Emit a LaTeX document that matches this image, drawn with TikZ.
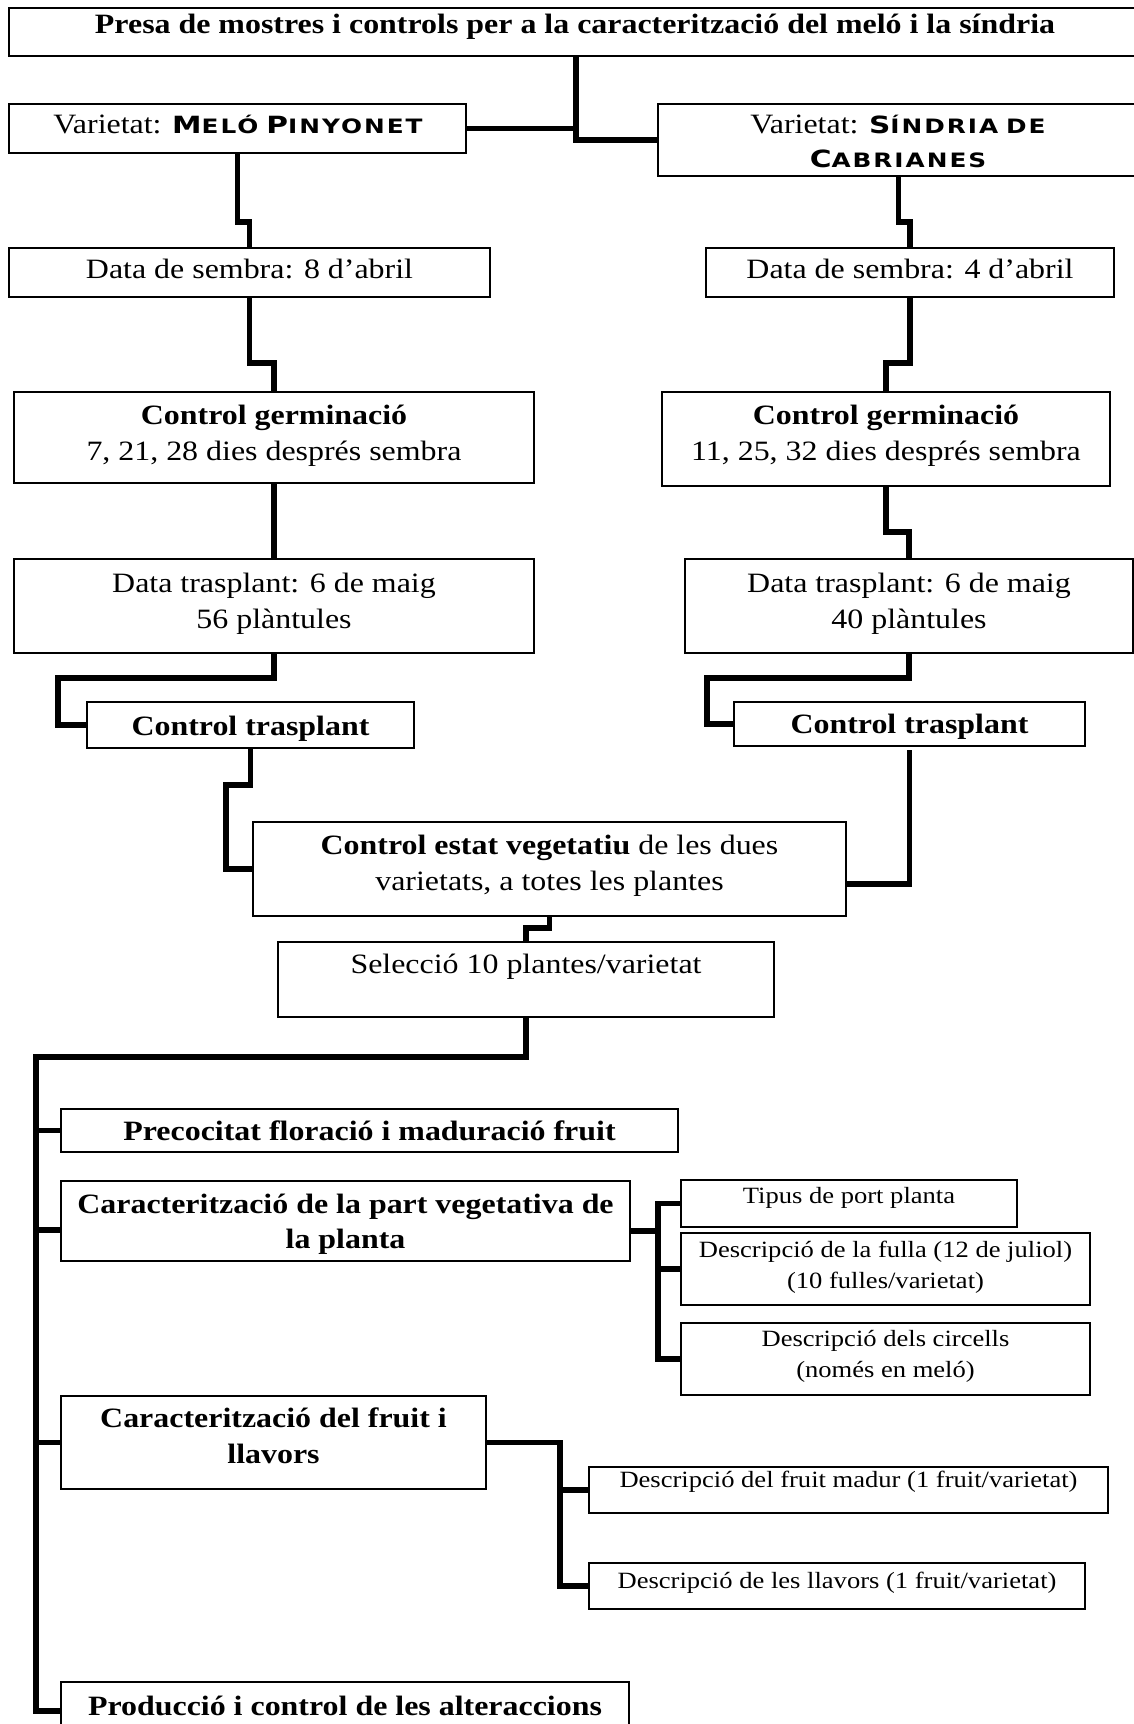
\documentclass[tikz,border=0pt]{standalone}
\usepackage{fontspec}
\usetikzlibrary{fit}
\setmainfont{Liberation Serif}[FakeStretch=1.14]
\newfontfamily\scf{DejaVu Sans}[FakeStretch=1.25,LetterSpace=10]
\newcommand\bigfs{\fontsize{28}{36}\selectfont}
\newcommand\smallfs{\fontsize{23.3}{30.5}\selectfont}
\newcommand\vsc[2]{{\scf\bfseries\fontsize{23.7}{23.7}\selectfont #1\fontsize{19.8}{19.8}\selectfont #2}}
\begin{document}
\begin{tikzpicture}[x=1pt,y=-1pt,
  box/.style={draw, line width=2pt, inner sep=0pt, outer sep=0pt},
  conn/.style={line width=5.5pt, line join=miter},
  txt/.style={inner sep=0pt, anchor=base, align=center, font=\bigfs},
  stxt/.style={txt, font=\smallfs}]
\useasboundingbox (0,0) rectangle (1134,1724);
% boxes
\node[box, fit={(9,8)(1141,56)}] (title) {};
\node[box, fit={(9,104)(466,153)}] (melo) {};
\node[box, fit={(658,104)(1139,176)}] (sind) {};
\node[box, fit={(9,248)(490,297)}] (dsL) {};
\node[box, fit={(706,248)(1114,297)}] (dsR) {};
\node[box, fit={(14,392)(534,483)}] (gL) {};
\node[box, fit={(662,392)(1110,486)}] (gR) {};
\node[box, fit={(14,559)(534,653)}] (tL) {};
\node[box, fit={(685,559)(1133,653)}] (tR) {};
\node[box, fit={(87,702)(414,748)}] (ctL) {};
\node[box, fit={(734,702)(1085,746)}] (ctR) {};
\node[box, fit={(253,822)(846,916)}] (estat) {};
\node[box, fit={(278,942)(774,1017)}] (sel) {};
\node[box, fit={(61,1109)(678,1152)}] (prec) {};
\node[box, fit={(61,1181)(630,1261)}] (veg) {};
\node[box, fit={(681,1180)(1017,1227)}] (tip) {};
\node[box, fit={(681,1233)(1090,1305)}] (ful) {};
\node[box, fit={(681,1323)(1090,1395)}] (cir) {};
\node[box, fit={(61,1396)(486,1489)}] (fru) {};
\node[box, fit={(589,1467)(1108,1513)}] (mad) {};
\node[box, fit={(589,1563)(1085,1609)}] (lla) {};
\node[box, fit={(61,1682)(629,1740)}] (prod) {};
% texts (anchor = baseline of the last line)
\node[txt] (title-t) at (575,33) {\bfseries Presa de mostres i controls per a la caracterització del meló i la síndria};
\node[txt] (melo-t) at (238,133) {Varietat: \vsc{M}{ELÓ} \vsc{P}{INYONET}};
\node[txt, font=\fontsize{28}{34}\selectfont] (sind-t) at (898,167) {Varietat: \vsc{S}{ÍNDRIA} \vsc{}{DE}\\\vsc{C}{ABRIANES}};
\node[txt] (dsL-t) at (249.5,278) {Data de sembra: 8 d’abril};
\node[txt] (dsR-t) at (910,278) {Data de sembra: 4 d’abril};
\node[txt] (gL-t) at (274,460) {\textbf{Control germinació}\\7, 21, 28 dies després sembra};
\node[txt] (gR-t) at (886,460) {\textbf{Control germinació}\\11, 25, 32 dies després sembra};
\node[txt] (tL-t) at (274,628) {Data trasplant: 6 de maig\\56 plàntules};
\node[txt] (tR-t) at (909,628) {Data trasplant: 6 de maig\\40 plàntules};
\node[txt] (ctL-t) at (250.5,735) {\bfseries Control trasplant};
\node[txt] (ctR-t) at (909.5,733) {\bfseries Control trasplant};
\node[txt] (estat-t) at (549.5,890) {\textbf{Control estat vegetatiu} de les dues\\varietats, a totes les plantes};
\node[txt] (sel-t) at (526,973) {Selecció 10 plantes/varietat};
\node[txt] (prec-t) at (369.5,1140) {\bfseries Precocitat floració i maduració fruit};
\node[txt, font=\fontsize{28}{35}\selectfont] (veg-t) at (345.5,1248) {\bfseries Caracterització de la part vegetativa de\\\bfseries la planta};
\node[stxt] (tip-t) at (849,1203) {Tipus de port planta};
\node[stxt] (ful-t) at (885.5,1288) {Descripció de la fulla (12 de juliol)\\(10 fulles/varietat)};
\node[stxt] (cir-t) at (885.5,1377) {Descripció dels circells\\(només en meló)};
\node[txt] (fru-t) at (273.5,1463) {\bfseries Caracterització del fruit i\\\bfseries llavors};
\node[stxt] (mad-t) at (848.5,1487) {Descripció del fruit madur (1 fruit/varietat)};
\node[stxt] (lla-t) at (837,1588) {Descripció de les llavors (1 fruit/varietat)};
\node[txt] (prod-t) at (345,1715) {\bfseries Producció i control de les alteraccions};
% connectors
\coordinate (j0) at (576,0);
\draw[conn] (title.south -| j0) |- (sind.west);
\draw[conn] (melo.east) -- (melo.east -| j0);
\draw[conn] (melo.south) -- ++(0,69) -| (dsL.north);
\draw[conn] (sind.south) -- ++(0,46) -| (dsR.north);
\draw[conn] (dsL.south) -- ++(0,66) -| (gL.north);
\draw[conn] (dsR.south) -- ++(0,66) -| (gR.north);
\draw[conn] (gL.south) -- (tL.north);
\draw[conn] (gR.south) -- ++(0,46) -| (tR.north);
\draw[conn] (tL.south) -- ++(0,25) -| ([xshift=-29pt]ctL.west) -- (ctL.west);
\draw[conn] (tR.south) -- ++(0,25) -| ([xshift=-27pt]ctR.west) -- (ctR.west);
\draw[conn] (ctL.south) -- ++(0,37) -| ([xshift=-27pt]estat.west) -- (estat.west);
\draw[conn] ([yshift=-4pt]ctR.south) |- ([yshift=-15pt]estat.east);
\draw[conn] (estat.south) -- ++(0,12) -| (sel.north);
\draw[conn] (sel.south) -- ++(0,40) -| ([xshift=-25pt]prod.west) -- (prod.west);
\draw[conn] (prec.west) -- ++(-25,0);
\draw[conn] ([yshift=-9pt]veg.west) -- ++(-25,0);
\draw[conn] (fru.west) -- ++(-25,0);
\draw[conn] ([yshift=-10pt]veg.east) -- ++(28,0);
\draw[conn] (tip.west) -| ([xshift=-23pt]cir.west) -- (cir.west);
\draw[conn] (ful.west) -- ++(-23,0);
\draw[conn] (fru.east) -| ([xshift=-29pt]lla.west) -- (lla.west);
\draw[conn] (mad.west) -- ++(-29,0);
\end{tikzpicture}
\end{document}
